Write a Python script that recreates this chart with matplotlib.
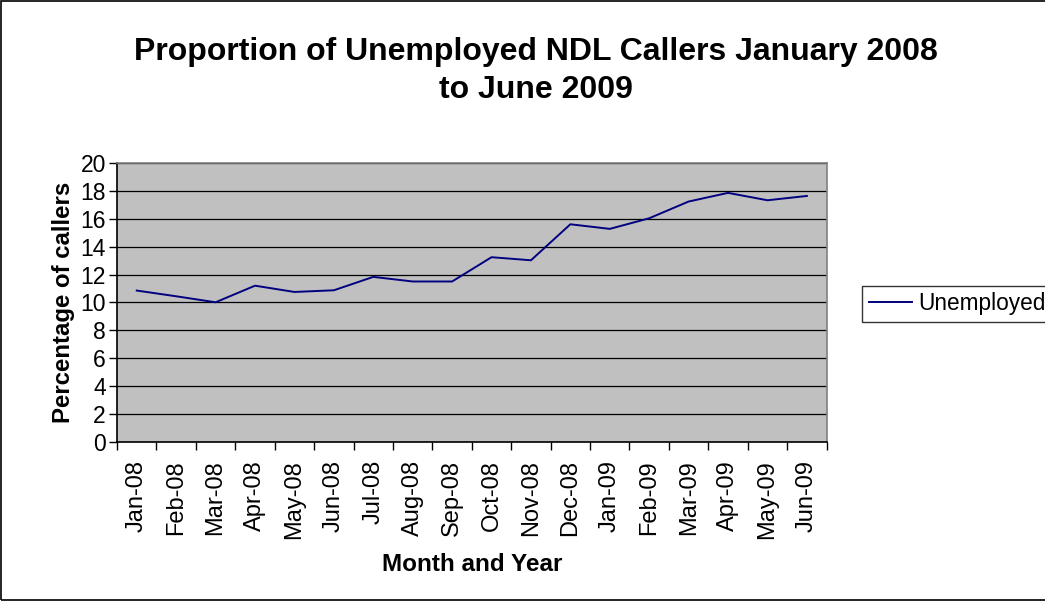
import matplotlib.pyplot as plt
from matplotlib.patches import Rectangle
import numpy as np

plt.rcParams['font.family'] = ['Liberation Sans', 'DejaVu Sans']

# monthly share of NDL callers who were unemployed (%)
months = ['Jan-08', 'Feb-08', 'Mar-08', 'Apr-08', 'May-08', 'Jun-08',
          'Jul-08', 'Aug-08', 'Sep-08', 'Oct-08', 'Nov-08', 'Dec-08',
          'Jan-09', 'Feb-09', 'Mar-09', 'Apr-09', 'May-09', 'Jun-09']
unemployed = [10.85, 10.44, 10.01, 11.2, 10.75, 10.87,
              11.83, 11.5, 11.5, 13.24, 13.02, 15.6,
              15.27, 16.03, 17.23, 17.85, 17.32, 17.63]

fig = plt.figure(figsize=(10.45, 6.01), dpi=100)
ax = fig.add_axes([0.112, 0.2646, 0.679, 0.4644])

x = np.arange(len(months))
ax.plot(x, unemployed, color='#000080', lw=1.4, label='Unemployed', zorder=3)

ax.set_facecolor('#C0C0C0')
ax.set_xlim(-0.5, len(months) - 0.5)
ax.set_ylim(0, 20)
ax.set_yticks(range(0, 21, 2))
ax.yaxis.grid(True, color='black', lw=0.9)
ax.set_axisbelow(True)

# category ticks sit between months, labels sit on the months
ax.set_xticks(np.arange(-0.5, len(months), 1.0))
ax.set_xticklabels([])
ax.set_xticks(x, minor=True)
ax.set_xticklabels(months, minor=True, rotation=90, fontsize=17)
ax.tick_params(axis='x', which='minor', length=0, pad=13)
ax.tick_params(axis='x', which='major', length=6, color='black', width=1)
ax.tick_params(axis='y', length=6, labelsize=16.5, width=1, pad=2)

for s in ax.spines.values():
    s.set_color('#808080')
    s.set_linewidth(1.2)
ax.spines['left'].set_color('black')
ax.spines['bottom'].set_color('black')

ax.set_xlabel('Month and Year', fontsize=17.5, fontweight='bold', labelpad=10)
ax.set_ylabel('Percentage of callers', fontsize=17.3, fontweight='bold', labelpad=4)

fig.text(0.513, 0.882, 'Proportion of Unemployed NDL Callers January 2008\nto June 2009',
         ha='center', va='center', fontsize=23, fontweight='bold', linespacing=1.32)

leg = ax.legend(loc='center left', bbox_to_anchor=(1.05, 0.495), fontsize=16.3,
                frameon=True, fancybox=False, handlelength=1.9, handletextpad=0.3,
                borderpad=0.3, borderaxespad=0)
leg.get_frame().set_edgecolor('black')
leg.get_frame().set_linewidth(1)

# outer chart border
fig.patches.append(Rectangle((0.001, 0.001), 1.2, 0.997, transform=fig.transFigure,
                             fill=False, edgecolor='black', lw=1.2))

fig.savefig('out.png', dpi=100)
